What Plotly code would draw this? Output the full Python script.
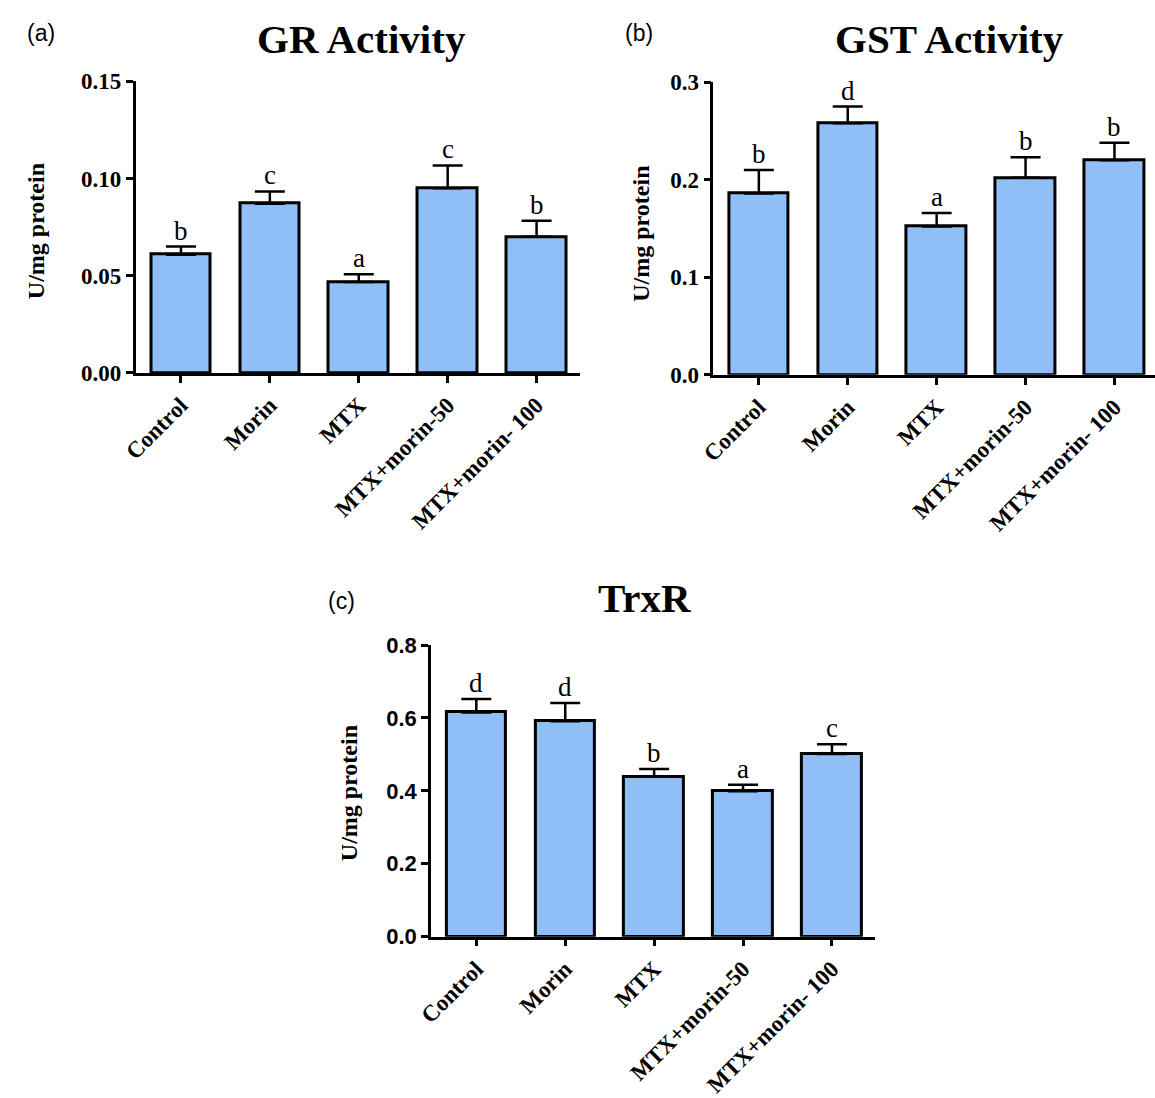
import plotly.graph_objects as go

# Treatment groups shared by all three panels
categories = ["Control", "Morin", "MTX", "MTX+morin-50", "MTX+morin- 100"]

# (a) Glutathione reductase activity
gr_mean = [0.0608, 0.087, 0.0467, 0.095, 0.070]
gr_sem = [0.0042, 0.0063, 0.0040, 0.0117, 0.0083]
gr_letters = ["b", "c", "a", "c", "b"]

# (b) Glutathione S-transferase activity
gst_mean = [0.186, 0.258, 0.152, 0.202, 0.220]
gst_sem = [0.024, 0.017, 0.014, 0.021, 0.018]
gst_letters = ["b", "d", "a", "b", "b"]

# (c) Thioredoxin reductase activity
trxr_mean = [0.615, 0.591, 0.439, 0.399, 0.501]
trxr_sem = [0.037, 0.050, 0.021, 0.018, 0.027]
trxr_letters = ["d", "d", "b", "a", "c"]

W, H = 1155, 1098
SERIF = "Liberation Serif, Times New Roman, serif"
SANS = "Liberation Sans, Arial, sans-serif"
BAR_FILL = "rgb(144,190,246)"


def px_x(p):
    return p / W


def px_y(p):
    return 1 - p / H


panels = [
    dict(mean=gr_mean, sem=gr_sem, letters=gr_letters, title="GR Activity", tag="(a)",
         xdom=(123, 573), xrange=(-0.511, 4.489), ydom=(71, 370), yrange=(0, 0.15),
         dtick=0.05, fmt=".2f", tickfam=SERIF, ticksize=23,
         title_xy=(352, 28), tag_xy=(27, 22), ytitle_xy=(23, 225)),
    dict(mean=gst_mean, sem=gst_sem, letters=gst_letters, title="GST Activity", tag="(b)",
         xdom=(708, 1155), xrange=(-0.511, 4.456), ydom=(72, 372), yrange=(0, 0.3),
         dtick=0.1, fmt=".1f", tickfam=SERIF, ticksize=23,
         title_xy=(947, 28), tag_xy=(633, 22), ytitle_xy=(635, 227)),
    dict(mean=trxr_mean, sem=trxr_sem, letters=trxr_letters, title="TrxR", tag="(c)",
         xdom=(422, 872), xrange=(-0.511, 4.489), ydom=(649, 948), yrange=(0, 0.8),
         dtick=0.2, fmt=".1f", tickfam=SANS, ticksize=22,
         title_xy=(638, 601), tag_xy=(332, 604), ytitle_xy=(339, 801)),
]

fig = go.Figure()
annotations = []

for i, p in enumerate(panels, start=1):
    xa = "x" if i == 1 else f"x{i}"
    ya = "y" if i == 1 else f"y{i}"
    fig.add_trace(go.Bar(
        x=categories, y=p["mean"], xaxis=xa, yaxis=ya, width=0.67,
        marker=dict(color=BAR_FILL, line=dict(color="black", width=3)),
        error_y=dict(type="data", array=p["sem"], arrayminus=[0] * len(p["sem"]),
                     symmetric=False, color="black", thickness=2.5, width=15),
        showlegend=False, hoverinfo="skip",
    ))

    common_axis = dict(showline=True, linecolor="black", linewidth=2.5,
                       ticks="outside", ticklen=7, tickwidth=2.5, tickcolor="black",
                       showgrid=False, zeroline=False)
    fig.layout[f"xaxis{'' if i == 1 else i}"] = dict(
        domain=[px_x(p["xdom"][0]), px_x(p["xdom"][1])], anchor=ya,
        range=list(p["xrange"]), type="category", tickangle=-45,
        tickfont=dict(family=SERIF, size=23, color="black", weight="bold"),
        **common_axis)
    fig.layout[f"yaxis{'' if i == 1 else i}"] = dict(
        domain=[px_y(p["ydom"][1]), px_y(p["ydom"][0])], anchor=xa,
        range=list(p["yrange"]), dtick=p["dtick"], tick0=0, tickformat=p["fmt"],
        tickfont=dict(family=p["tickfam"], size=p["ticksize"], color="black", weight="bold"),
        **common_axis)

    # significance letters above each error bar
    for c, m, s, L in zip(categories, p["mean"], p["sem"], p["letters"]):
        annotations.append(dict(x=c, y=m + s, xref=xa, yref=ya, text=L, showarrow=False,
                                yanchor="bottom", yshift=-1,
                                font=dict(family=SERIF, size=27, color="black")))

    annotations.append(dict(x=px_x(p["title_xy"][0]), y=px_y(p["title_xy"][1]),
                            xref="paper", yref="paper", text=f"<b>{p['title']}</b>",
                            showarrow=False, xanchor="center", yanchor="middle",
                            font=dict(family=SERIF, size=41, color="black")))
    annotations.append(dict(x=px_x(p["tag_xy"][0]), y=px_y(p["tag_xy"][1]),
                            xref="paper", yref="paper", text=p["tag"],
                            showarrow=False, xanchor="center", yanchor="middle",
                            font=dict(family=SANS, size=23, color="black")))
    annotations.append(dict(x=px_x(p["ytitle_xy"][0]), y=px_y(p["ytitle_xy"][1]),
                            xref="paper", yref="paper", text="<b>U/mg protein</b>",
                            textangle=-90, showarrow=False, xanchor="center", yanchor="middle",
                            font=dict(family=SERIF, size=24, color="black")))

fig.update_layout(width=W, height=H, margin=dict(l=0, r=0, t=0, b=0),
                  paper_bgcolor="white", plot_bgcolor="white",
                  annotations=annotations, bargap=0)

fig.write_html("out.html")
